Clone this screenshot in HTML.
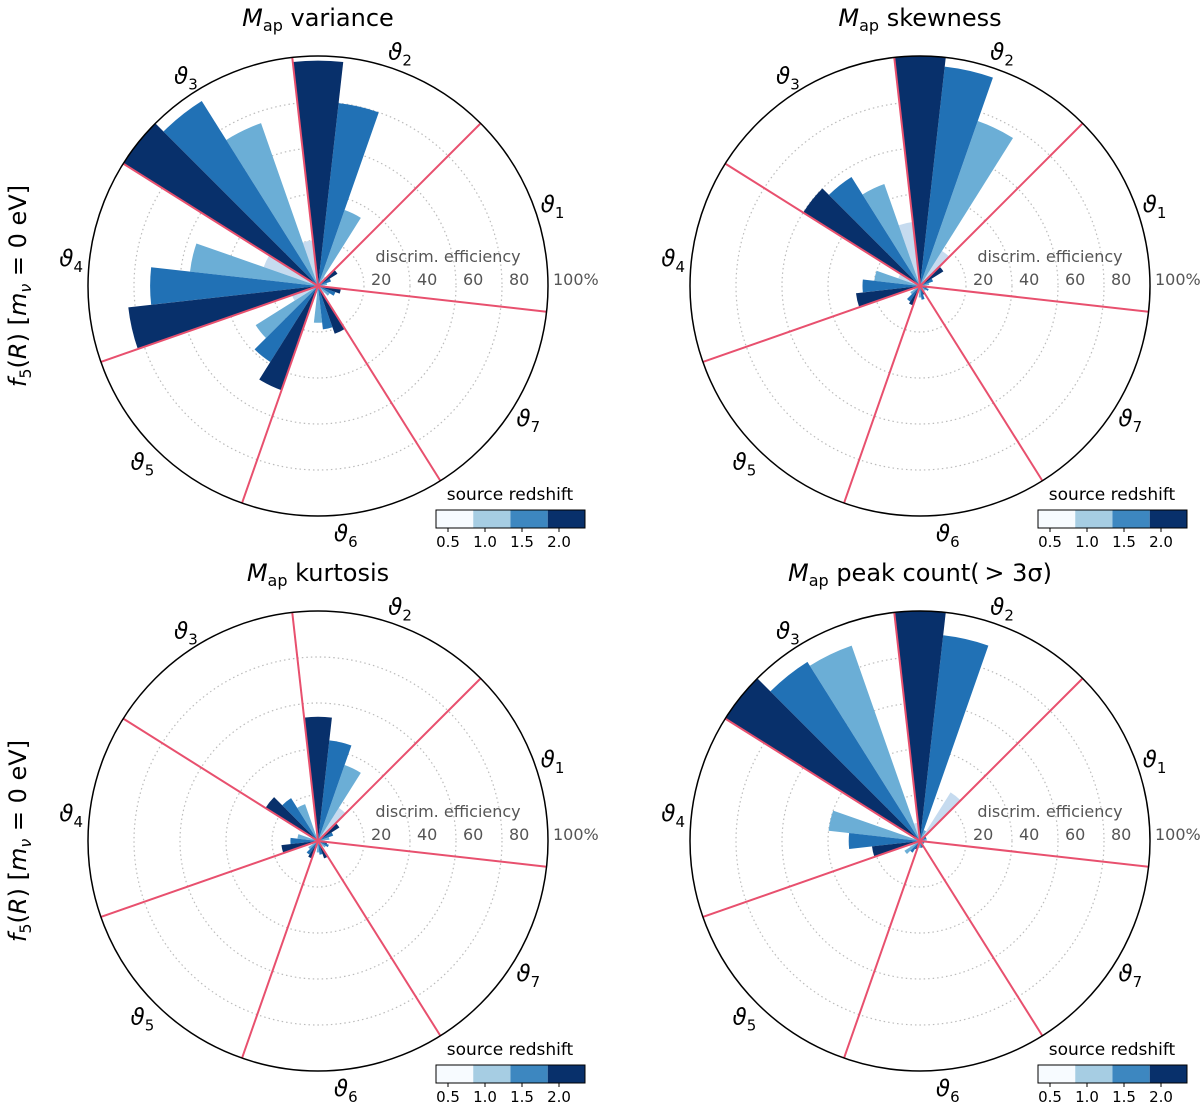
<!DOCTYPE html>
<html><head><meta charset="utf-8"><style>
body{margin:0;background:#fff}
svg{display:block;font-family:"DejaVu Sans","Liberation Sans",sans-serif}
</style></head><body>
<svg id="c" width="1200" height="1108" viewBox="0 0 1200 1108"></svg>
<script>
// data: discrimination efficiency (%) for sectors theta1..theta7, per source redshift
const sectors = ["1","2","3","4","5","6","7"];
const redshifts = ["0.5","1.0","1.5","2.0"];
const varZ05 = [3,5,20,25,12,3,4];
const varZ10 = [4,35,75,56,32,16,6];
const varZ15 = [6,80,95,73,39,19,8];
const varZ20 = [10,98,100,83,48,22,10];
const skwZ05 = [3,18,28,10,3,3,2];
const skwZ10 = [4,76,47,20,5,5,3];
const skwZ15 = [6,96,56,25,8,6,4];
const skwZ20 = [12,100,60,28,9,4,3];
const kurZ05 = [3,17,3,3,3,3,3];
const kurZ10 = [5,35,17,9,5,5,4];
const kurZ15 = [7,44,22,12,7,6,5];
const kurZ20 = [11,54,27,16,8,8,4];
const pkZ05 = [3,25,8,3,5,3,2];
const pkZ10 = [3,5,90,40,8,3,2];
const pkZ15 = [3,90,92,31,6,3,2];
const pkZ20 = [3,100,100,21,4,3,2];
const radialTicks = [20,40,60,80];
const tickLabels = ["20","40","60","80","100%"];
const titles = ["variance","skewness","kurtosis","peak count(\u2009> 3\u03c3)"];

const NS="http://www.w3.org/2000/svg";
const svg=document.getElementById('c');
const colors=["#c6dbef","#6baed6","#2171b5","#08306b"];
const cbColors=["#f7fbff","#a6cde3","#3d87c0","#08306b"];
function mk(tag,attrs,parent){const e=document.createElementNS(NS,tag);for(const k in attrs)e.setAttribute(k,attrs[k]);(parent||svg).appendChild(e);return e;}
const R=230, start=-6.43, sw=360/7;
const panels=[
 {cx:318,cy:286,data:[varZ05,varZ10,varZ15,varZ20],name:"variance"},
 {cx:920,cy:286,data:[skwZ05,skwZ10,skwZ15,skwZ20],name:"skewness"},
 {cx:318,cy:841,data:[kurZ05,kurZ10,kurZ15,kurZ20],name:"kurtosis"},
 {cx:920,cy:841,data:[pkZ05,pkZ10,pkZ15,pkZ20],name:"peak-count"}];
function rr(v){return v/100*R;}
function pt(cx,cy,r,deg){const a=deg*Math.PI/180;return [cx+r*Math.cos(a),cy-r*Math.sin(a)];}

panels.forEach((p,pi)=>{
  const g=mk('g',{});
  
  
  radialTicks.forEach(t=>{
    const c=mk('circle',{cx:p.cx,cy:p.cy,r:rr(t),fill:'none',stroke:'#bbb','stroke-width':1.2,'stroke-dasharray':'1.5,3'},g);
    
    
  });
  const w=sw/4;
  p.data.forEach((arr,z)=>{
    arr.forEach((v,s)=>{
      const a0=start+s*sw+z*w, a1=a0+w, r=rr(Math.min(v,100));
      const q0=pt(p.cx,p.cy,r,a0), q1=pt(p.cx,p.cy,r,a1);
      const path=mk('path',{d:`M${p.cx},${p.cy}L${q0[0]},${q0[1]}A${r},${r} 0 0 0 ${q1[0]},${q1[1]}Z`,fill:colors[z]},g);
      
      
    });
  });
  for(let k=0;k<7;k++){
    const q=pt(p.cx,p.cy,R,start+k*sw);
    const l=mk('line',{x1:p.cx,y1:p.cy,x2:q[0],y2:q[1],stroke:'#e8506e','stroke-width':2},g);
    
    
  }
  const oc=mk('circle',{cx:p.cx,cy:p.cy,r:R,fill:'none',stroke:'#000','stroke-width':1.5},g);
  
  
  sectors.forEach((s,i)=>{
    const q=pt(p.cx,p.cy,R*1.08,start+(i+0.5)*sw);
    const t=mk('text',{x:q[0],y:q[1]+8,'text-anchor':'middle','font-size':23,fill:'#000','font-style':'italic'},g);
    t.innerHTML='\u03d1<tspan font-size="15" dy="6" font-style="normal">'+s+'</tspan>';
    
    
  });
  tickLabels.forEach((lb,i)=>{
    const x=p.cx+rr((i+1)*20)+(i==4?5:7);
    const t=mk('text',{x:x,y:p.cy-1,'text-anchor':'start','font-size':16,fill:'#555'},g);
    t.textContent=lb;
    
    
  });
  const dt=mk('text',{x:p.cx+130,y:p.cy-24,'text-anchor':'middle','font-size':16,fill:'#555'},g);
  dt.textContent='discrim. efficiency';
  
  
  const tt=mk('text',{x:p.cx,y:p.cy-260,'text-anchor':'middle','font-size':24,fill:'#000'},g);
  tt.innerHTML='<tspan font-style="italic">M</tspan><tspan font-size="16" dy="5">ap</tspan><tspan dy="-5"> '+titles[pi]+'</tspan>';
  
  
  const bx=p.cx+118, by=p.cy+224;
  const cl=mk('text',{x:bx+74,y:by-10,'text-anchor':'middle','font-size':17,fill:'#000'},g);
  cl.textContent='source redshift';
  
  
  cbColors.forEach((c,i)=>{
    const r=mk('rect',{x:bx+i*37.25,y:by,width:37.25,height:18,fill:c},g);
    
    
  });
  const cbo=mk('rect',{x:bx,y:by,width:149,height:18,fill:'none',stroke:'#000','stroke-width':1},g);
  
  
  redshifts.forEach((z,i)=>{
    const x=bx+12+i*37;
    mk('line',{x1:x,y1:by+18,x2:x,y2:by+22,stroke:'#000'},g);
    const t=mk('text',{x:x,y:by+37,'text-anchor':'middle','font-size':15,fill:'#000'},g);
    t.textContent=z;
    
    
  });
});
[286,841].forEach(y=>{
  const t=mk('text',{x:0,y:0,'text-anchor':'middle','font-size':24,fill:'#000',transform:`translate(26,${y}) rotate(-90)`});
  t.innerHTML='<tspan font-style="italic">f</tspan><tspan font-size="16" dy="5">5</tspan><tspan dy="-5">(</tspan><tspan font-style="italic">R</tspan>) [<tspan font-style="italic">m</tspan><tspan font-size="16" dy="5" font-style="italic">\u03bd</tspan><tspan dy="-5"> = 0 eV]</tspan>';
  
  
});
</script>
</body></html>
